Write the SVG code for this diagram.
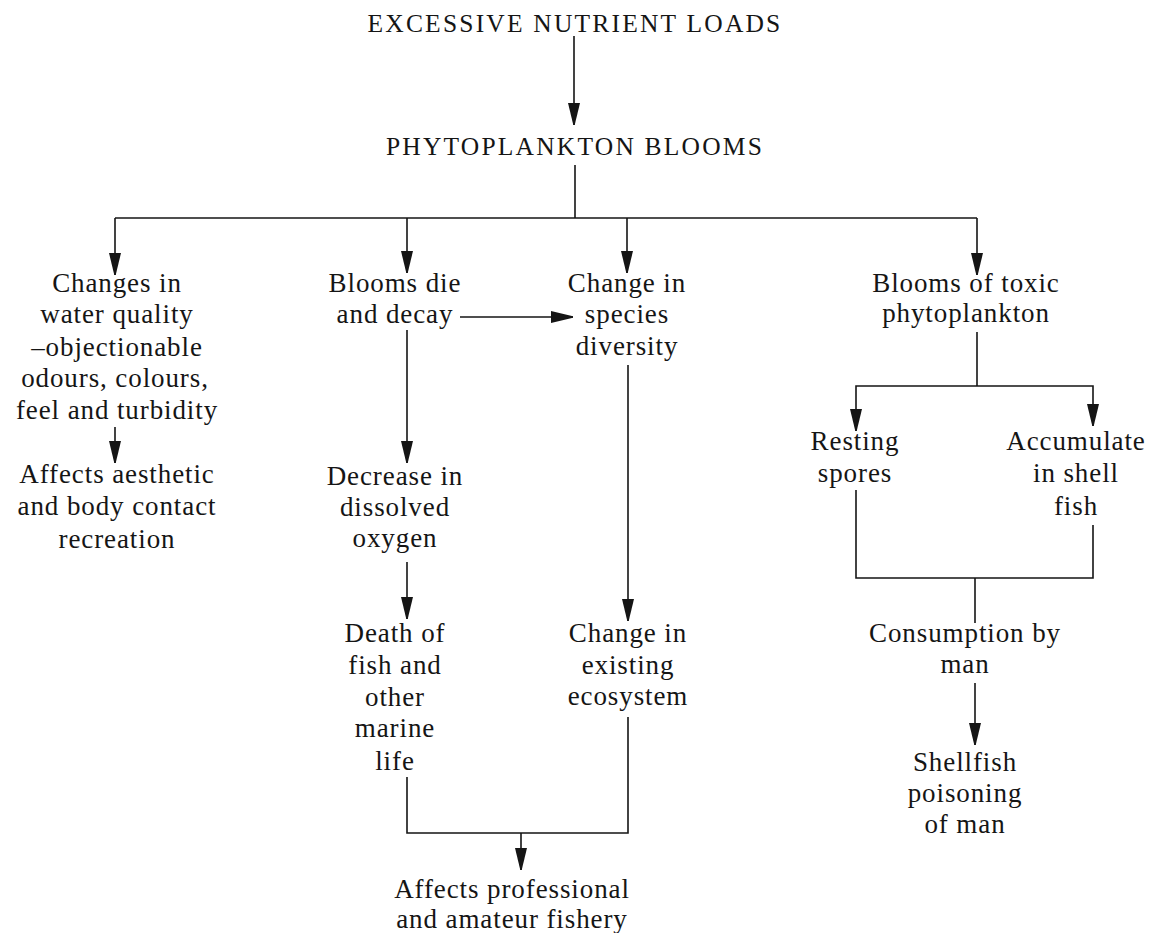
<svg xmlns="http://www.w3.org/2000/svg" width="1150" height="933" viewBox="0 0 1150 933">
<style>
text{font-family:"Liberation Serif","Times New Roman",serif;font-size:27px;fill:#151515;text-anchor:middle;letter-spacing:0.9px}
.cap{font-size:25.5px;letter-spacing:2.2px}
.c{fill:none;stroke:#151515;stroke-width:1.6}
</style>
<defs>
<marker id="ah" markerUnits="userSpaceOnUse" markerWidth="24" markerHeight="14" viewBox="0 0 24 14" refX="22" refY="7" orient="auto-start-reverse">
<path d="M0,1 L22,6.3 L22,7.7 L0,13 Z" fill="#151515"/>
</marker>
</defs>
<rect width="1150" height="933" fill="#ffffff"/>
<g id="connectors">
<line class="c" x1="574" y1="36" x2="574" y2="125" marker-end="url(#ah)"/>
<line class="c" x1="575" y1="165" x2="575" y2="218"/>
<line class="c" x1="115" y1="218" x2="977" y2="218"/>
<line class="c" x1="115" y1="218" x2="115" y2="275" marker-end="url(#ah)"/>
<line class="c" x1="407" y1="218" x2="407" y2="273" marker-end="url(#ah)"/>
<line class="c" x1="627" y1="218" x2="627" y2="273" marker-end="url(#ah)"/>
<line class="c" x1="977" y1="218" x2="977" y2="275" marker-end="url(#ah)"/>
<line class="c" x1="115" y1="427" x2="115" y2="463" marker-end="url(#ah)"/>
<line class="c" x1="460" y1="317" x2="573" y2="317" marker-end="url(#ah)"/>
<line class="c" x1="407" y1="330" x2="407" y2="463" marker-end="url(#ah)"/>
<line class="c" x1="407" y1="562" x2="407" y2="619" marker-end="url(#ah)"/>
<line class="c" x1="628" y1="365" x2="628" y2="621" marker-end="url(#ah)"/>
<polyline class="c" points="407,777 407,833 628,833 628,717"/>
<line class="c" x1="521" y1="833" x2="521" y2="870" marker-end="url(#ah)"/>
<line class="c" x1="977" y1="332" x2="977" y2="386"/>
<polyline class="c" points="856,431 856,386 1093,386 1093,426" marker-start="url(#ah)" marker-end="url(#ah)"/>
<polyline class="c" points="856,490 856,578 1093,578 1093,525"/>
<line class="c" x1="975" y1="578" x2="975" y2="623"/>
<line class="c" x1="975" y1="683" x2="975" y2="745" marker-end="url(#ah)"/>
</g>
<g id="n-excessive"><text class="cap" x="575" y="32">EXCESSIVE NUTRIENT LOADS</text></g>
<g id="n-phyto"><text class="cap" x="575" y="155">PHYTOPLANKTON BLOOMS</text></g>
<g id="n-water">
<text x="117" y="292">Changes in</text>
<text x="117" y="323">water quality</text>
<text x="117" y="356">–objectionable</text>
<text x="115" y="387">odours, colours,</text>
<text x="117" y="419">feel and turbidity</text>
</g>
<g id="n-aesthetic">
<text x="117" y="483">Affects aesthetic</text>
<text x="117" y="515">and body contact</text>
<text x="117" y="548">recreation</text>
</g>
<g id="n-die">
<text x="395" y="292">Blooms die</text>
<text x="395" y="323">and decay</text>
</g>
<g id="n-species">
<text x="627" y="292">Change in</text>
<text x="627" y="323">species</text>
<text x="627" y="355">diversity</text>
</g>
<g id="n-oxygen">
<text x="395" y="485">Decrease in</text>
<text x="395" y="516">dissolved</text>
<text x="395" y="547">oxygen</text>
</g>
<g id="n-death">
<text x="395" y="642">Death of</text>
<text x="395" y="674">fish and</text>
<text x="395" y="706">other</text>
<text x="395" y="737">marine</text>
<text x="395" y="770">life</text>
</g>
<g id="n-ecosystem">
<text x="628" y="642">Change in</text>
<text x="628" y="674">existing</text>
<text x="628" y="705">ecosystem</text>
</g>
<g id="n-fishery">
<text x="512" y="898">Affects professional</text>
<text x="512" y="928">and amateur fishery</text>
</g>
<g id="n-toxic">
<text x="966" y="292">Blooms of toxic</text>
<text x="966" y="322">phytoplankton</text>
</g>
<g id="n-spores">
<text x="855" y="450">Resting</text>
<text x="855" y="482">spores</text>
</g>
<g id="n-shellfish">
<text x="1076" y="450">Accumulate</text>
<text x="1076" y="482">in shell</text>
<text x="1076" y="515">fish</text>
</g>
<g id="n-consumption">
<text x="965" y="642">Consumption by</text>
<text x="965" y="673">man</text>
</g>
<g id="n-poisoning">
<text x="965" y="771">Shellfish</text>
<text x="965" y="802">poisoning</text>
<text x="965" y="833">of man</text>
</g>
</svg>
